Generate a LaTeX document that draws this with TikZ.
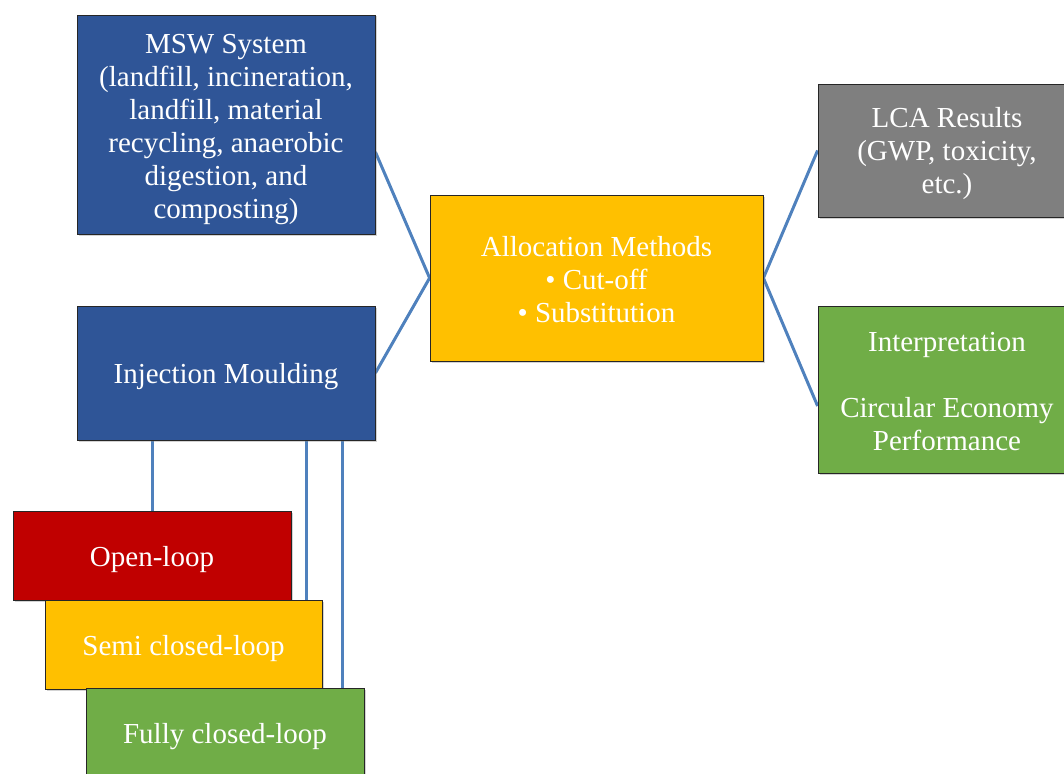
\documentclass[tikz,border=0pt]{standalone}
\usepackage{fontspec}
\setmainfont{Liberation Serif}
\usetikzlibrary{shadows,calc,backgrounds}
\definecolor{cblue}{HTML}{2F5597}
\definecolor{corange}{HTML}{FFC000}
\definecolor{cgrey}{HTML}{7F7F7F}
\definecolor{cgreen}{HTML}{70AD47}
\definecolor{cred}{HTML}{C00000}
\definecolor{cline}{HTML}{4F81BD}
\tikzset{
  box/.style={draw=black!85, line width=0.8pt, rectangle, inner sep=0pt,
    drop shadow={shadow xshift=1.5pt, shadow yshift=-1.5pt, opacity=0.35}},
  lbl/.style={inner sep=0pt, align=center, text=white, font=\fontsize{29}{33}\selectfont},
  txt/.style 2 args={label={[lbl, yshift=#1]center:{#2}}},
  link/.style={draw=cline, line width=3pt}
}
\begin{document}
\begin{tikzpicture}[x=1pt,y=-1pt]
\useasboundingbox (0,0) rectangle (1064,773);
\begin{scope}
\clip (0,0) rectangle (1064,773);
\node[box, fill=cblue, minimum width=298pt, minimum height=219pt,
  txt={-5pt}{MSW System\\(landfill, incineration,\\landfill, material\\recycling, anaerobic\\digestion, and\\composting)}] (msw) at (226,124.5) {};
\node[box, fill=cblue, minimum width=298pt, minimum height=134pt,
  txt={-4pt}{Injection Moulding}] (inj) at (226,373) {};
\node[box, fill=corange, minimum width=333pt, minimum height=166pt,
  txt={-1.5pt}{Allocation Methods\\\textbullet\ Cut-off\\\textbullet\ Substitution}] (alloc) at (596.5,278) {};
\node[box, fill=cgrey, minimum width=258pt, minimum height=133pt,
  txt={-3pt}{LCA Results\\(GWP, toxicity,\\etc.)}] (lca) at (947,150.5) {};
\node[box, fill=cgreen, minimum width=258pt, minimum height=167pt,
  txt={-2pt}{Interpretation\\[33pt]Circular Economy\\Performance}] (interp) at (947,389.5) {};
\node[box, fill=cred, minimum width=278pt, minimum height=89pt,
  txt={-4pt}{Open-loop}] (open) at (152,555.5) {};
\node[box, fill=corange, minimum width=277pt, minimum height=89pt,
  txt={-4.5pt}{Semi closed-loop}] (semi) at (183.5,644.5) {};
\node[box, fill=cgreen, minimum width=278pt, minimum height=92pt,
  txt={-3pt}{Fully closed-loop}] (fully) at (225,734) {};
\begin{scope}[on background layer]
\draw[link] ([yshift=-27.5pt]msw.east) -- (alloc.west);
\draw[link] (inj.east) -- (alloc.west);
\draw[link] (alloc.east) -- (lca.west);
\draw[link] (alloc.east) -- ([yshift=-16.5pt]interp.west);
\draw[link] (inj.south -| open.north) -- (open.north);
\coordinate (s) at ([xshift=-16pt]semi.north east);
\coordinate (f) at ([xshift=-22pt]fully.north east);
\draw[link] (inj.south -| s) -- (s);
\draw[link] (inj.south -| f) -- (f);
\end{scope}
\end{scope}
\end{tikzpicture}
\end{document}
